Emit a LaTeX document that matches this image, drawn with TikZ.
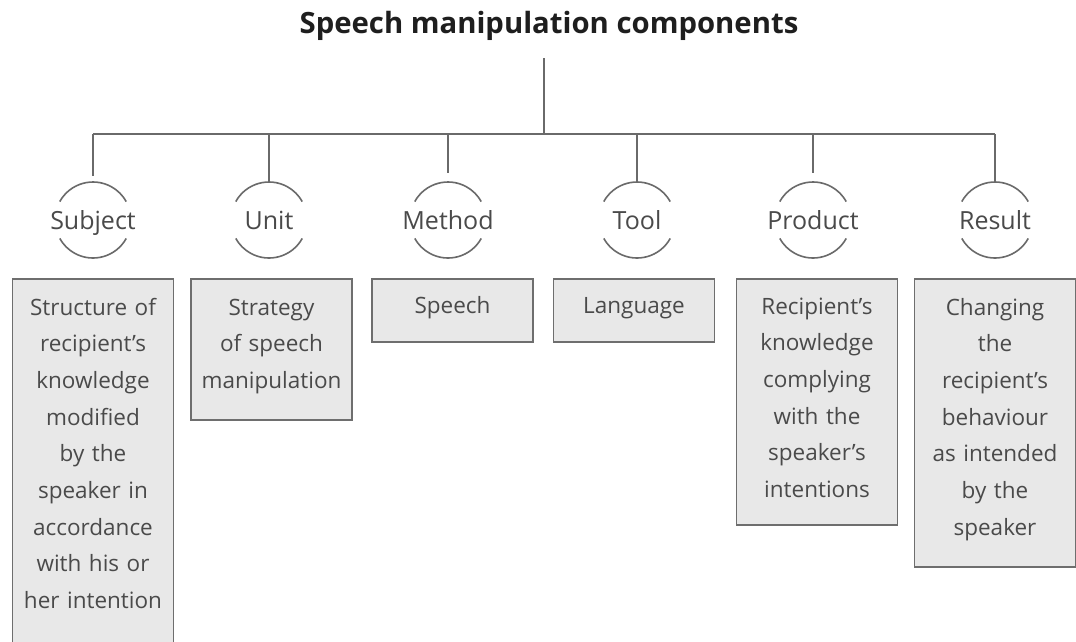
\documentclass[tikz,border=0pt]{standalone}
\usepackage{fontspec}
\setmainfont{Open Sans}
\definecolor{linegray}{HTML}{6A6A6A}
\definecolor{textgray}{HTML}{4A4A4A}
\definecolor{titlegray}{HTML}{1E1E1E}
\definecolor{boxgray}{HTML}{6E6E6E}
\definecolor{boxfill}{HTML}{E8E8E8}
\begin{document}
\begin{tikzpicture}[x=1pt,y=-1pt,
  conn/.style={draw=linegray, line width=1.8pt},
  arcline/.style={draw=linegray, line width=1.6pt},
  lab/.style={circle, minimum size=76pt, inner sep=0pt, text height=19pt, text depth=0pt,
    text=textgray, font=\fontsize{25}{30}\selectfont},
  boxframe/.style={draw=boxgray, fill=boxfill, line width=1.8pt, anchor=north,
    minimum width=161pt, inner sep=0pt},
  boxtext/.style={text=textgray, text width=155pt, align=center, anchor=base,
    inner sep=0pt, font=\fontsize{22.5}{36.7}\selectfont}]
\clip (0,0) rectangle (1076,641);
\fill[white] (0,0) rectangle (1076,641);

\node[font=\bfseries\fontsize{29.3}{35}\selectfont, text=titlegray, anchor=base, inner sep=0pt]
  (title) at (549,33) {Speech manipulation components};

\coordinate (hub) at (544,58);
\coordinate (bar) at (544,134);

\node[lab] (S) at (93,220) {Subject};
\node[lab] (U) at (269,220) {Unit};
\node[lab] (M) at (448,220) {Method};
\node[lab] (T) at (637,220) {Tool};
\node[lab] (P) at (813,220) {Product};
\node[lab] (R) at (995,220) {Result};

\draw[conn] (hub) -- (bar);
\draw[conn] (S |- bar) -- (R |- bar);
\foreach \n in {S,U,M,T,P,R}{
  \draw[conn] (\n |- bar) -- (\n.north);
  \draw[arcline] ([shift={(209:38)}]\n.center) arc[start angle=209, end angle=331, radius=38];
  \draw[arcline] ([shift={(29:38)}]\n.center) arc[start angle=29, end angle=151, radius=38];
}

\node[boxframe, minimum height=372pt] (bS) at (93,278) {};
\node[boxtext] (tS) at (93,315) {Structure of\\recipient’s\\knowledge\\modified\\by the\\speaker in\\accordance\\with his or\\her intention};

\node[boxframe, minimum height=141pt] (bU) at (271.5,278) {};
\node[boxtext] (tU) at (271.5,315) {Strategy\\of speech\\manipulation};

\node[boxframe, minimum height=63pt] (bM) at (452.5,278) {};
\node[boxtext] (tM) at (452.5,313) {Speech};

\node[boxframe, minimum height=63pt] (bT) at (634,278) {};
\node[boxtext] (tT) at (634,313) {Language};

\node[boxframe, minimum height=246pt] (bP) at (817,278) {};
\node[boxtext] (tP) at (817,314) {Recipient’s\\knowledge\\complying\\with the\\speaker’s\\intentions};

\node[boxframe, minimum height=288pt] (bR) at (995,278) {};
\node[boxtext] (tR) at (995,315) {Changing\\the\\recipient’s\\behaviour\\as intended\\by the\\speaker};
\end{tikzpicture}
\end{document}
